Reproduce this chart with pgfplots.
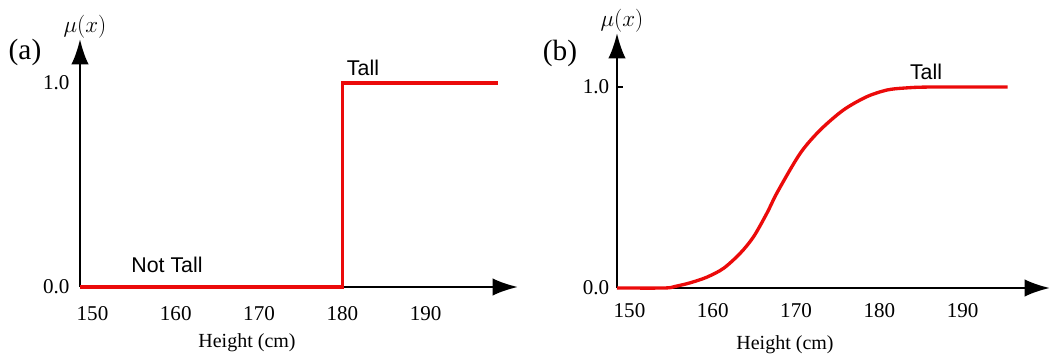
\documentclass[border=0pt]{standalone}
\usepackage{fontspec}
\setmainfont{Liberation Serif}
\newfontfamily\arial{Liberation Sans}
\usepackage{pgfplots}
\pgfplotsset{compat=1.18}
\usetikzlibrary{arrows.meta}
\definecolor{curvered}{RGB}{235,10,10}
\pgfplotsset{
  myaxis/.style={
    scale only axis,
    axis lines=left,
    axis line style={line width=1.8pt,-{Latex[length=19pt,width=13pt]}},
    enlargelimits=false,
    clip=false,
    xmin=148.5, ymin=0,
    xtick={150,160,170,180,190},
    xticklabels={150,160,170,180,190},
    ytick={0,1},
    yticklabels={0.0,1.0},
    tick label style={font=\fontsize{15.8}{17}\selectfont},
    xtick style={draw=none},
    every y tick label/.append style={xshift=-2.3pt},
  }
}
\begin{document}
\begin{tikzpicture}
\useasboundingbox (0,0) rectangle (788.25pt,267pt);
% panel (a)
\begin{axis}[myaxis,
  at={(60pt,51.75pt)}, anchor=south west,
  width=328.5pt, height=186pt,
  xmax=201.1, ymax=1.216,
  ytick style={draw=none},
  every x tick label/.append style={anchor=base,yshift=-23.25pt},
]
\addplot[curvered, line width=2.5pt, line join=miter] coordinates {
  (148.5,0) (180,0) (180,1) (198.7,1)
};
\end{axis}
% panel (b)
\begin{axis}[myaxis,
  at={(462.75pt,51pt)}, anchor=south west,
  width=324.75pt, height=191.25pt,
  xmax=200.5, ymax=1.269,
  tick align=inside,
  major tick length=4.5pt,
  ytick style={line width=1pt,black},
  every x tick label/.append style={anchor=base,yshift=-22.5pt},
]
\addplot[curvered, line width=2.5pt, smooth] coordinates {
  (148.5,0) (154.2,0) (155.5,0.008) (157.3,0.026) (159.3,0.054) (161.3,0.098)
  (163.3,0.173) (164.9,0.255) (166.5,0.372) (167.8,0.48) (170.5,0.67)
  (172.9,0.786) (175.7,0.886) (178.5,0.952) (180.9,0.985) (183,0.995)
  (186,1.0) (195.4,1.0)
};
\end{axis}
% annotations
\node[anchor=base,font=\fontsize{22}{24}\selectfont] at (18.75pt,222pt) {(a)};
\node[anchor=base,font=\fontsize{16}{18}\selectfont] at (63.75pt,242.25pt) {$\mu(x)$};
\node[anchor=base,font=\arial\fontsize{16}{18}\selectfont] at (272.25pt,210pt) {Tall};
\node[anchor=base,font=\arial\fontsize{16}{18}\selectfont] at (125.25pt,62.25pt) {Not Tall};
\node[anchor=base,font=\fontsize{15}{17}\selectfont] at (185.25pt,6pt) {Height (cm)};
\node[anchor=base,font=\fontsize{22}{24}\selectfont] at (420pt,221.25pt) {(b)};
\node[anchor=base,font=\fontsize{16}{18}\selectfont] at (466.5pt,246.75pt) {$\mu(x)$};
\node[anchor=base,font=\arial\fontsize{16}{18}\selectfont] at (694.5pt,207pt) {Tall};
\node[anchor=base,font=\fontsize{15}{17}\selectfont] at (588.75pt,4.5pt) {Height (cm)};
\end{tikzpicture}
\end{document}
